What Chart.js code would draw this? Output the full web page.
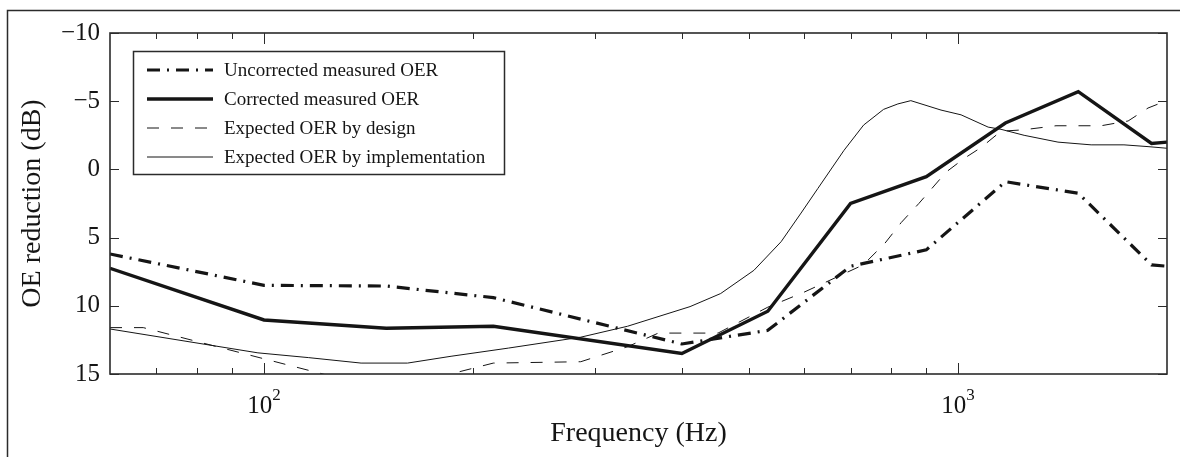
<!DOCTYPE html>
<html>
<head>
<meta charset="utf-8">
<script src="https://cdn.jsdelivr.net/npm/chart.js@4.4.1/dist/chart.umd.min.js"></script>
<style>
  html, body { margin: 0; padding: 0; background: #fff; }
  #wrap { width: 1180px; height: 457px; position: relative; }
</style>
</head>
<body>
<div id="wrap"><canvas id="oer" width="1180" height="457"></canvas></div>
<script>
// ── Data ──────────────────────────────────────────────────────
const freqMeasured = [60, 100, 150, 214, 400, 532, 700, 900, 1170, 1490, 1900, 2000];
const uncorrected  = [6.2, 8.5, 8.55, 9.4, 12.8, 11.8, 7.1, 5.9, 0.9, 1.75, 7.0, 7.1];
const corrected    = [7.25, 11.04, 11.65, 11.5, 13.5, 10.4, 2.5, 0.53, -3.4, -5.7, -1.9, -2.0];

const freqDesign = [60, 67, 150, 214, 286, 334, 370, 451, 532, 600, 730, 785, 828, 878, 961, 1020, 1079, 1153, 1241, 1384, 1607, 1758, 1878, 2000];
const design     = [11.6, 11.6, 16.2, 14.2, 14.1, 13.0, 12.0, 12.0, 10.1, 9.0, 7.0, 5.4, 3.9, 2.5, 0.2, -0.8, -1.6, -2.8, -2.9, -3.2, -3.2, -3.55, -4.5, -5.05];

const freqImpl = [60, 98, 116, 138, 161, 186, 225, 286, 334, 411, 455, 508, 556, 594, 628, 685, 731, 781, 819, 855, 945, 1010, 1105, 1153, 1245, 1393, 1555, 1734, 1878, 2000];
const implementation = [11.7, 13.45, 13.8, 14.2, 14.2, 13.7, 13.1, 12.3, 11.5, 10.06, 9.1, 7.4, 5.3, 3.2, 1.4, -1.4, -3.25, -4.4, -4.8, -5.04, -4.35, -4.0, -3.1, -2.94, -2.5, -2.0, -1.8, -1.8, -1.67, -1.55];

const xMajor = [100, 1000];
const xMajorExp = ['2', '3'];
const xMinor = [70, 80, 90, 200, 300, 400, 500, 600, 700, 800, 900];
const yTicks = [-10, -5, 0, 5, 10, 15];

const seriesLabels = [
  'Uncorrected measured OER',
  'Corrected measured OER',
  'Expected OER by design',
  'Expected OER by implementation'
];

const INK = '#151515';
const FRAME = '#2b2b2b';
const SERIF = '"Liberation Serif", "Times New Roman", serif';

const pts = (xs, ys) => xs.map((x, i) => ({ x, y: ys[i] }));

// ── Frame, inward ticks, 10^n labels, legend box ──────────────
const matlabAxes = {
  id: 'matlabAxes',
  afterDraw(chart) {
    const { ctx, chartArea: a, scales: { x, y } } = chart;
    ctx.save();

    // outer figure border (top + left)
    ctx.strokeStyle = FRAME;
    ctx.lineWidth = 1.5;
    ctx.beginPath();
    ctx.moveTo(7.5, 457);
    ctx.lineTo(7.5, 10.5);
    ctx.lineTo(1180, 10.5);
    ctx.stroke();

    // axes box
    ctx.lineWidth = 1.6;
    ctx.strokeRect(a.left, a.top, a.right - a.left, a.bottom - a.top);

    // y ticks, both sides
    ctx.lineWidth = 1;
    ctx.beginPath();
    yTicks.forEach(v => {
      const py = Math.round(y.getPixelForValue(v)) + 0.5;
      ctx.moveTo(a.left, py); ctx.lineTo(a.left + 9, py);
      ctx.moveTo(a.right, py); ctx.lineTo(a.right - 9, py);
    });
    // x ticks, top and bottom
    const xt = (v, len) => {
      const px = Math.round(x.getPixelForValue(v)) + 0.5;
      ctx.moveTo(px, a.bottom); ctx.lineTo(px, a.bottom - len);
      ctx.moveTo(px, a.top); ctx.lineTo(px, a.top + len);
    };
    xMajor.forEach(v => xt(v, 11));
    xMinor.forEach(v => xt(v, 6));
    ctx.stroke();

    // decade labels with raised exponent
    ctx.fillStyle = INK;
    ctx.textBaseline = 'alphabetic';
    ctx.textAlign = 'left';
    xMajor.forEach((v, i) => {
      const px = x.getPixelForValue(v);
      ctx.font = '25px ' + SERIF;
      const wBase = ctx.measureText('10').width;
      ctx.font = '17px ' + SERIF;
      const wExp = ctx.measureText(xMajorExp[i]).width;
      const x0 = px - (wBase + wExp) / 2;
      ctx.font = '25px ' + SERIF;
      ctx.fillText('10', x0, a.bottom + 39);
      ctx.font = '17px ' + SERIF;
      ctx.fillText(xMajorExp[i], x0 + wBase, a.bottom + 26);
    });

    // legend
    const lx = 133.5, ly = 51.5, lw = 371, lh = 123;
    ctx.fillStyle = '#fff';
    ctx.fillRect(lx, ly, lw, lh);
    ctx.strokeStyle = FRAME;
    ctx.lineWidth = 1.5;
    ctx.strokeRect(lx, ly, lw, lh);

    ctx.font = '19px ' + SERIF;
    ctx.textBaseline = 'middle';
    chart.data.datasets.forEach((ds, i) => {
      const ry = 70 + i * 29;
      ctx.strokeStyle = INK;
      ctx.lineWidth = ds.borderWidth;
      ctx.setLineDash(ds.borderDash || []);
      ctx.beginPath();
      ctx.moveTo(147, ry); ctx.lineTo(213, ry);
      ctx.stroke();
      ctx.setLineDash([]);
      ctx.fillStyle = INK;
      ctx.fillText(ds.label, 224, ry + 1);
    });

    ctx.restore();
  }
};

// ── Chart ─────────────────────────────────────────────────────
new Chart(document.getElementById('oer'), {
  type: 'line',
  data: {
    datasets: [
      { label: seriesLabels[0], data: pts(freqMeasured, uncorrected), borderWidth: 3.2, borderDash: [13, 7, 2, 7] },
      { label: seriesLabels[1], data: pts(freqMeasured, corrected), borderWidth: 3.4 },
      { label: seriesLabels[2], data: pts(freqDesign, design), borderWidth: 1, borderDash: [12, 12] },
      { label: seriesLabels[3], data: pts(freqImpl, implementation), borderWidth: 1 }
    ].map(d => ({ ...d, borderColor: INK, backgroundColor: INK, pointRadius: 0, tension: 0, fill: false }))
  },
  options: {
    responsive: false,
    animation: false,
    devicePixelRatio: 1,
    layout: { padding: { top: 33, right: 13, bottom: 0, left: 0 } },
    plugins: { legend: { display: false }, tooltip: { enabled: false } },
    scales: {
      x: {
        type: 'logarithmic',
        min: 60,
        max: 2000,
        afterBuildTicks: s => { s.ticks = xMajor.map(v => ({ value: v })); },
        afterFit: s => { s.height = 83; },
        grid: { display: false, drawTicks: false },
        border: { display: false },
        ticks: { display: false },
        title: {
          display: true,
          text: 'Frequency (Hz)',
          color: INK,
          font: { family: SERIF, size: 28 },
          padding: { top: 0, bottom: 7 }
        }
      },
      y: {
        reverse: true,
        min: -10,
        max: 15,
        afterBuildTicks: s => { s.ticks = yTicks.map(v => ({ value: v })); },
        afterFit: s => { s.width = 110; },
        grid: { display: false, drawTicks: false },
        border: { display: false },
        ticks: {
          padding: 10,
          color: INK,
          font: { family: SERIF, size: 25 },
          callback: v => v < 0 ? '\u2212' + (-v) : String(v)
        },
        title: {
          display: true,
          text: 'OE reduction (dB)',
          color: INK,
          font: { family: SERIF, size: 28 },
          padding: { top: 16, bottom: 0 }
        }
      }
    }
  },
  plugins: [matlabAxes]
});
</script>
</body>
</html>
